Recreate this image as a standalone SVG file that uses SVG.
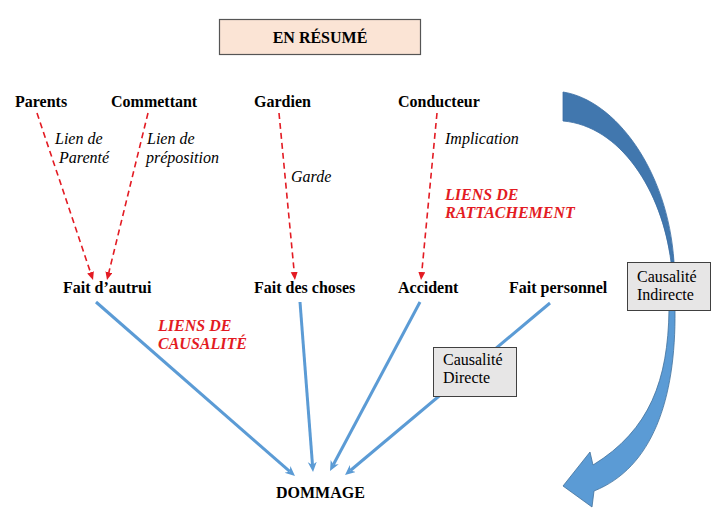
<svg xmlns="http://www.w3.org/2000/svg" width="714" height="518" viewBox="0 0 714 518" font-family="'Liberation Serif', 'DejaVu Serif', serif">
<style>
text{font-family:'Liberation Serif','DejaVu Serif',serif;font-size:16px;fill:#000}
.b{font-weight:bold}
.i{font-style:italic}
.r{font-weight:bold;font-style:italic;fill:#e31b23}
.red{stroke:#e31b23;stroke-width:1.6;stroke-dasharray:6 4;fill:none}
.blue{stroke:#5b9bd5;stroke-width:3;fill:none}
.box{fill:#e7e6e6;stroke:#404040;stroke-width:1}
</style>
<defs>
<marker id="ra" markerUnits="userSpaceOnUse" markerWidth="9" markerHeight="8" refX="0" refY="3.5" orient="auto"><path d="M0,0 L8,3.5 L0,7 z" fill="#e31b23"/></marker>
<marker id="ba" markerUnits="userSpaceOnUse" markerWidth="12" markerHeight="10" refX="3" refY="4.5" orient="auto"><path d="M0,0 L10,4.5 L0,9 L3,4.5 z" fill="#5b9bd5"/></marker>
</defs>
<g id="title"><rect x="219.5" y="19.5" width="201" height="35" fill="#fbe4d5" stroke="#555" stroke-width="1.2"/><text class="b" x="320" y="43" text-anchor="middle">EN RÉSUMÉ</text></g>
<g id="curve">
<path d="M563,92 C615,100 668,170 674,262 L671,262 C662,190 620,126 563,121 Z" fill="#4177ae" stroke="#3a6da3" stroke-width="0.8"/>
<path d="M669,310 C668,380 650,430 593,465 L590,452 L563,486 L592,507 L594,491 C652,468 676,400 675,310 Z" fill="#5b9bd5" stroke="#41719c" stroke-width="0.8"/>
</g>
<g id="connectors">
<line class="red" x1="37" y1="113" x2="90.5" y2="272.4" marker-end="url(#ra)"/>
<line class="red" x1="148" y1="113" x2="108.9" y2="272.2" marker-end="url(#ra)"/>
<line class="red" x1="279" y1="113" x2="294.2" y2="272" marker-end="url(#ra)"/>
<line class="red" x1="437" y1="113" x2="421.8" y2="272" marker-end="url(#ra)"/>
<line class="blue" x1="96" y1="302" x2="289.7" y2="471.4" marker-end="url(#ba)"/>
<line class="blue" x1="300" y1="302" x2="312.5" y2="465" marker-end="url(#ba)"/>
<line class="blue" x1="420" y1="302" x2="333.3" y2="464.8" marker-end="url(#ba)"/>
<line class="blue" x1="550" y1="303" x2="350.4" y2="470.5" marker-end="url(#ba)"/>
</g>
<g id="parents"><text class="b" x="15" y="107">Parents</text></g>
<g id="commettant"><text class="b" x="111" y="107">Commettant</text></g>
<g id="gardien"><text class="b" x="254" y="107">Gardien</text></g>
<g id="conducteur"><text class="b" x="398" y="107">Conducteur</text></g>
<g id="fait-autrui"><text class="b" x="63" y="293">Fait d’autrui</text></g>
<g id="fait-choses"><text class="b" x="254" y="293">Fait des choses</text></g>
<g id="accident"><text class="b" x="398" y="293">Accident</text></g>
<g id="fait-personnel"><text class="b" x="509" y="293">Fait personnel</text></g>
<g id="dommage"><text class="b" x="276" y="498">DOMMAGE</text></g>
<g id="labels">
<text class="i" x="55" y="144">Lien de</text>
<text class="i" x="59" y="163">Parenté</text>
<text class="i" x="147" y="144">Lien de</text>
<text class="i" x="146" y="163">préposition</text>
<text class="i" x="291" y="182">Garde</text>
<text class="i" x="445" y="144">Implication</text>
<text class="r" x="445" y="200">LIENS DE</text>
<text class="r" x="445" y="218">RATTACHEMENT</text>
<text class="r" x="158" y="331">LIENS DE</text>
<text class="r" x="158" y="349">CAUSALITÉ</text>
</g>
<g id="causalite-directe"><rect class="box" x="433.5" y="347.5" width="83" height="49"/><text x="443" y="365">Causalité</text><text x="443" y="383">Directe</text></g>
<g id="causalite-indirecte"><rect class="box" x="627.5" y="262.5" width="83" height="48"/><text x="637" y="282">Causalité</text><text x="637" y="300">Indirecte</text></g>
</svg>
